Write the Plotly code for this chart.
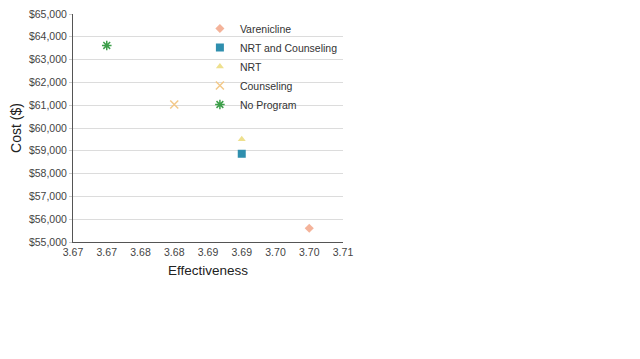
import plotly.graph_objects as go

series = ["Varenicline", "NRT and Counseling", "NRT", "Counseling", "No Program"]
effectiveness = [3.705, 3.695, 3.695, 3.685, 3.675]
cost = [55600, 58870, 59510, 61030, 63620]
colors = ["#f4b39a", "#2f8fae", "#eee08e", "#f3c98a", "#3d9f4a"]
symbols = ["diamond", "square", "triangle-up", "x-thin-open", "asterisk-open"]
sizes = [7, 8, 7, 8, 8]

x_tickvals = [3.67, 3.675, 3.68, 3.685, 3.69, 3.695, 3.70, 3.705, 3.71]
x_ticktext = ["3.67", "3.67", "3.68", "3.68", "3.69", "3.69", "3.70", "3.70", "3.71"]
y_tickvals = [55000, 56000, 57000, 58000, 59000, 60000, 61000, 62000, 63000, 64000, 65000]
y_ticktext = ["$55,000", "$56,000", "$57,000", "$58,000", "$59,000", "$60,000",
              "$61,000", "$62,000", "$63,000", "$64,000", "$65,000"]

fig = go.Figure()
for name, x, y, c, s, sz in zip(series, effectiveness, cost, colors, symbols, sizes):
    lw = 1.5 if "open" in s else 0
    fig.add_trace(go.Scatter(
        x=[x], y=[y], mode="markers", name=name,
        marker=dict(symbol=s, color=c, size=sz, line=dict(color=c, width=lw)),
    ))

fig.update_layout(
    width=640, height=359,
    margin=dict(l=65, r=305, t=6, b=125),
    paper_bgcolor="white", plot_bgcolor="white",
    font=dict(family="Liberation Sans, Arial, sans-serif", color="#333333", size=11),
    showlegend=True,
    legend=dict(x=0.47, y=1.0, xanchor="left", yanchor="top",
                bgcolor="rgba(0,0,0,0)", font=dict(size=10.5, color="#333333"),
                tracegroupgap=0),
    xaxis=dict(
        range=[3.67, 3.71], tickvals=x_tickvals, ticktext=x_ticktext, automargin=False,
        showgrid=False, zeroline=False, showline=True, linecolor="#555555", linewidth=1,
        ticks="", tickfont=dict(size=10.5, color="#444444"),
        title=dict(text="Effectiveness", font=dict(size=13.5, color="#222222"), standoff=8),
    ),
    yaxis=dict(
        range=[55000, 65000], tickvals=y_tickvals, ticktext=y_ticktext, automargin=False,
        ticklabeloverflow="allow",
        showgrid=True, gridcolor="#dcdcdc", gridwidth=1, zeroline=False,
        showline=True, linecolor="#555555", linewidth=1,
        ticks="outside", ticklen=3, tickcolor="#cccccc",
        tickfont=dict(size=10.5, color="#444444"),
        title=dict(text="Cost ($)", font=dict(size=14, color="#222222"), standoff=6),
    ),
)

fig.write_html("out.html")
